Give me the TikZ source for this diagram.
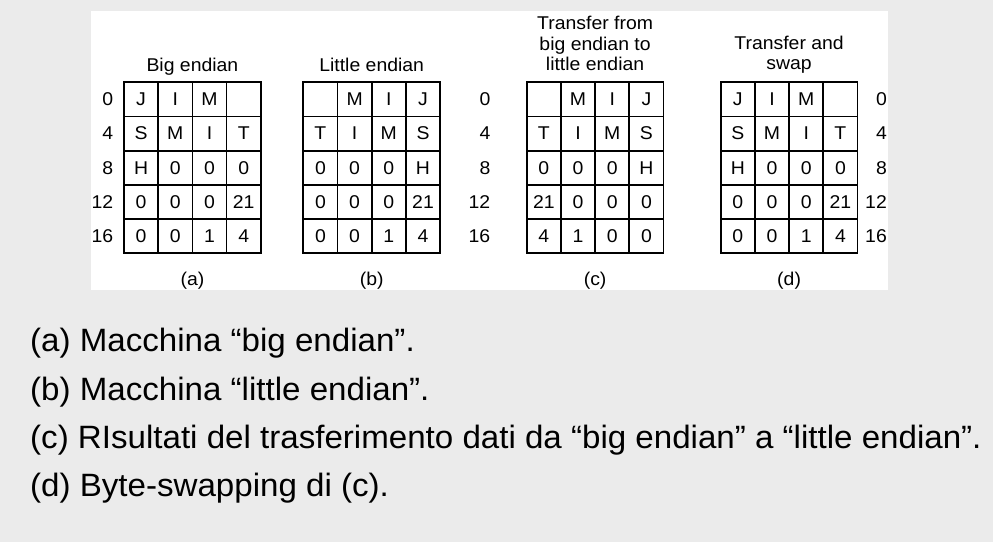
\documentclass[tikz,border=0pt]{standalone}
\usepackage{fontspec}
\setmainfont{Liberation Sans}
\newfontfamily\dgfont[FakeStretch=1.05]{Liberation Sans}
\newfontfamily\capfont[FakeStretch=1.025]{Liberation Sans}
\definecolor{bggray}{HTML}{EBEBEB}
\tikzset{
  cell/.style={draw=black, line width=1.7pt, minimum size=34.2pt, inner sep=0pt, font=\dgfont\fontsize{18.5}{22}\selectfont},
  dgtext/.style={inner sep=0pt, font=\dgfont\fontsize{18.5}{22}\selectfont},
  captext/.style={inner sep=0pt, anchor=base west, font=\capfont\fontsize{32.3}{38}\selectfont}
}
\newcommand\cellrow[7]{%
  \foreach \k/\t in {1/{#4},2/{#5},3/{#6},4/{#7}}
    \node[cell] (#1-#3-\k) at ({#2+(\k-0.5)*34.2},{82.3+(#3+0.5)*34.2}) {\t};}
\begin{document}
\begin{tikzpicture}[x=1pt,y=-1pt]
\useasboundingbox (0,0) rectangle (993,542);
\fill[bggray] (0,0) rectangle (993,542);
\fill[white] (91,11) rectangle (888,290);
% grid (a)
\cellrow{a}{124}{0}{J}{I}{M}{}
\cellrow{a}{124}{1}{S}{M}{I}{T}
\cellrow{a}{124}{2}{H}{0}{0}{0}
\cellrow{a}{124}{3}{0}{0}{0}{21}
\cellrow{a}{124}{4}{0}{0}{1}{4}
% grid (b)
\cellrow{b}{303.3}{0}{}{M}{I}{J}
\cellrow{b}{303.3}{1}{T}{I}{M}{S}
\cellrow{b}{303.3}{2}{0}{0}{0}{H}
\cellrow{b}{303.3}{3}{0}{0}{0}{21}
\cellrow{b}{303.3}{4}{0}{0}{1}{4}
% grid (c)
\cellrow{c}{526.7}{0}{}{M}{I}{J}
\cellrow{c}{526.7}{1}{T}{I}{M}{S}
\cellrow{c}{526.7}{2}{0}{0}{0}{H}
\cellrow{c}{526.7}{3}{21}{0}{0}{0}
\cellrow{c}{526.7}{4}{4}{1}{0}{0}
% grid (d)
\cellrow{d}{720.7}{0}{J}{I}{M}{}
\cellrow{d}{720.7}{1}{S}{M}{I}{T}
\cellrow{d}{720.7}{2}{H}{0}{0}{0}
\cellrow{d}{720.7}{3}{0}{0}{0}{21}
\cellrow{d}{720.7}{4}{0}{0}{1}{4}
% address labels
\foreach \r/\v in {0/0,1/4,2/8,3/12,4/16} {
  \node[dgtext, anchor=east] (la-\r) at (113.5,{82.3+(\r+0.5)*34.2}) {\v};
  \node[dgtext, anchor=east] (lm-\r) at (490.5,{82.3+(\r+0.5)*34.2}) {\v};
  \node[dgtext, anchor=east] (ld-\r) at (887,{82.3+(\r+0.5)*34.2}) {\v};
}
% titles
\node[dgtext, anchor=base] (ta) at (192.4,71) {Big endian};
\node[dgtext, anchor=base] (tb) at (371.7,71) {Little endian};
\node[dgtext, anchor=base] (tc1) at (595.1,29.5) {Transfer from};
\node[dgtext, anchor=base] (tc2) at (595.1,50) {big endian to};
\node[dgtext, anchor=base] (tc3) at (595.1,70.5) {little endian};
\node[dgtext, anchor=base] (td1) at (789.1,49) {Transfer and};
\node[dgtext, anchor=base] (td2) at (789.1,69.5) {swap};
% sub-captions
\node[dgtext, anchor=base] (ca) at (192.4,285) {(a)};
\node[dgtext, anchor=base] (cb) at (371.7,285) {(b)};
\node[dgtext, anchor=base] (cc) at (595.1,285) {(c)};
\node[dgtext, anchor=base] (cd) at (789.1,285) {(d)};
% bottom text
\node[captext] (l1) at (30,351.7) {(a) Macchina “big endian”.};
\node[captext] (l2) at (30,400) {(b) Macchina “little endian”.};
\node[captext] (l3) at (30,448.3) {(c) RIsultati del trasferimento dati da “big endian” a “little endian”.};
\node[captext] (l4) at (30,496.7) {(d) Byte-swapping di (c).};
\end{tikzpicture}
\end{document}
